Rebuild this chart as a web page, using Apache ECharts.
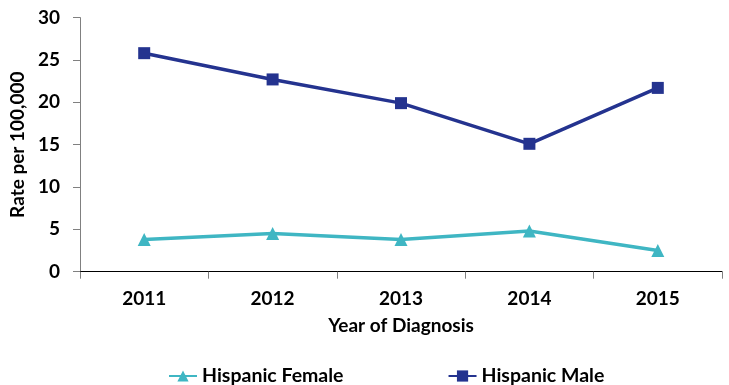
<!DOCTYPE html>
<html>
<head>
<meta charset="utf-8">
<script src="https://cdn.jsdelivr.net/npm/echarts@6/dist/echarts.min.js"></script>
<style>
  html, body { margin: 0; padding: 0; background: #fff; }
  #chart { width: 729px; height: 385px; }
</style>
</head>
<body>
<div id="chart"></div>
<script>
const years = ['2011', '2012', '2013', '2014', '2015'];
const femaleRates = [3.8, 4.5, 3.8, 4.8, 2.5];
const maleRates = [25.8, 22.7, 19.9, 15.1, 21.7];
const yTicks = [0, 5, 10, 15, 20, 25, 30];

let chart = echarts.init(document.getElementById('chart'));
const font = 'Lato';

let option = {
  backgroundColor: '#fff',
  animation: false,
  grid: { left: 80, right: 7, top: 17.6, bottom: 113.3, containLabel: false },
  legend: {
    left: 168,
    top: 366,
    padding: 0,
    itemWidth: 28,
    itemHeight: 14,
    itemGap: 104,
    textStyle: { fontFamily: font, fontWeight: 'bold', fontSize: 19.5, color: '#000' },
    data: ['Hispanic Female', 'Hispanic Male'],
  },
  xAxis: {
    type: 'category',
    data: years,
    boundaryGap: true,
    name: 'Year of Diagnosis',
    nameLocation: 'middle',
    nameGap: 45,
    nameTextStyle: { fontFamily: font, fontWeight: 'bold', fontSize: 19, color: '#000' },
    axisLine: { lineStyle: { color: '#000', width: 1 } },
    axisTick: { show: true, length: 7, lineStyle: { color: '#808080' } },
    axisLabel: { margin: 18, fontFamily: font, fontWeight: 'bold', fontSize: 19, color: '#000' },
  },
  yAxis: {
    type: 'value',
    min: yTicks[0],
    max: yTicks[yTicks.length - 1],
    interval: 5,
    name: 'Rate per 100,000',
    nameLocation: 'middle',
    nameGap: 40,
    nameTextStyle: { fontFamily: font, fontWeight: 'bold', fontSize: 19, color: '#000' },
    axisLine: { show: true, lineStyle: { color: '#808080', width: 1 } },
    axisTick: { show: true, length: 7, lineStyle: { color: '#808080' } },
    splitLine: { show: false },
    axisLabel: { margin: 20, fontFamily: font, fontWeight: 'bold', fontSize: 19, color: '#000' },
  },
  series: [
    {
      name: 'Hispanic Female',
      type: 'line',
      data: femaleRates,
      color: '#3fb6c3',
      symbol: 'triangle',
      symbolSize: 13,
      lineStyle: { width: 3.5 },
    },
    {
      name: 'Hispanic Male',
      type: 'line',
      data: maleRates,
      color: '#24338f',
      symbol: 'rect',
      symbolSize: 12,
      lineStyle: { width: 3.5 },
    },
  ],
};

chart.setOption(option);
</script>
</body>
</html>
